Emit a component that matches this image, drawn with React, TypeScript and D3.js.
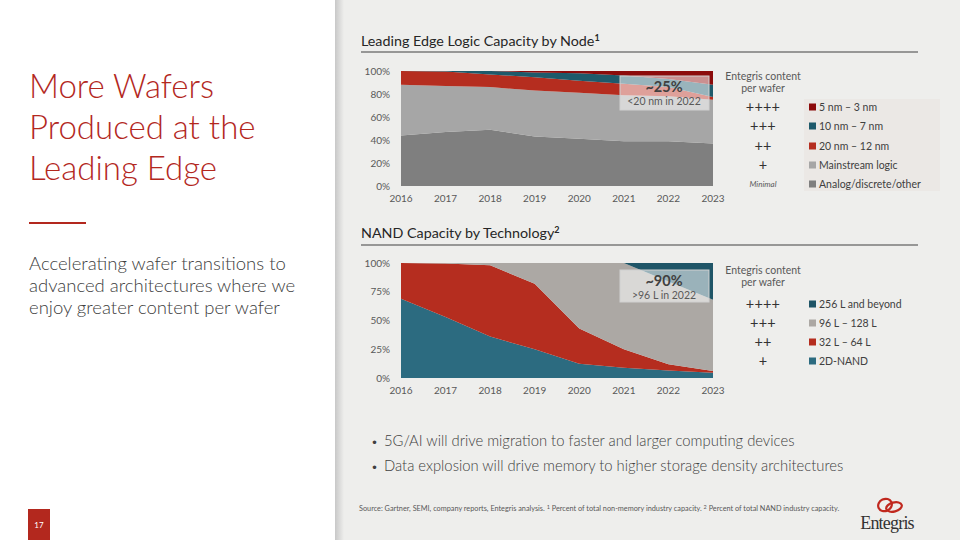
import * as d3 from 'd3';
import React from 'react';

// ---- data ----
const years = [2016, 2017, 2018, 2019, 2020, 2021, 2022, 2023];

// Leading edge logic capacity by node (% of total non-memory capacity)
const logicAnalog = [44, 47, 49, 43, 41, 39, 39, 37];
const logicMainstream = [44, 40, 37, 40, 40, 40, 39, 38];
const logic20to12 = [12, 12.5, 11, 11.5, 10.5, 10, 8, 2.5];
const logic10to7 = [0, 0.5, 3, 4.3, 6.5, 7, 7, 10.5];
const logic5to3 = [0, 0, 0, 1.2, 2, 4, 7, 12];
const logicTicks = [0, 20, 40, 60, 80, 100];

// NAND capacity by technology (% of total NAND capacity)
const nand2D = [69, 53, 36, 25, 12.5, 9, 6.5, 4.5];
const nand32to64 = [31, 46.5, 62, 57, 30.5, 16, 5.5, 1.5];
const nand96to128 = [0, 0.5, 2, 18, 57, 75, 72, 62];
const nand256 = [0, 0, 0, 0, 0, 0, 16, 32];
const nandTicks = [0, 25, 50, 75, 100];

const logicLegend = [
  { plus: '++++', label: '5 nm – 3 nm', color: '#8c0b0b' },
  { plus: '+++', label: '10 nm – 7 nm', color: '#1e5a6b' },
  { plus: '++', label: '20 nm – 12 nm', color: '#b52d1f' },
  { plus: '+', label: 'Mainstream logic', color: '#a6a6a6' },
  { plus: 'Minimal', label: 'Analog/discrete/other', color: '#7f7f7f' },
];
const nandLegend = [
  { plus: '++++', label: '256 L and beyond', color: '#1f5567' },
  { plus: '+++', label: '96 L – 128 L', color: '#aca8a4' },
  { plus: '++', label: '32 L – 64 L', color: '#b52d1f' },
  { plus: '+', label: '2D-NAND', color: '#2c6b80' },
];

const FONT = 'Lato, "Open Sans", sans-serif';
const TEXT = '#404040';
const RED = '#b3281e';

type Row = { year: number; [k: string]: number };

function buildRows(series: number[][], keys: string[]): Row[] {
  return years.map((year, i) => {
    const r: Row = { year };
    keys.forEach((k, j) => (r[k] = series[j][i]));
    return r;
  });
}

interface ChartProps {
  rows: Row[];
  keys: string[];
  colors: string[];
  ticks: number[];
  top: number;
  bottom: number;
  callout: { big: string; small: string; y0: number; y1: number };
}

const StackedArea: React.FC<ChartProps> = ({ rows, keys, colors, ticks, top, bottom, callout }) => {
  const x = d3.scaleLinear().domain([2016, 2023]).range([401, 713]);
  const y = d3.scaleLinear().domain([0, 100]).range([bottom, top]);
  const stacked = d3.stack<Row>().keys(keys)(rows);
  const area = d3
    .area<d3.SeriesPoint<Row>>()
    .x((d) => x(d.data.year))
    .y0((d) => y(d[0]))
    .y1((d) => y(d[1]));

  return (
    <g>
      {stacked.map((s, i) => (
        <path key={s.key} d={area(s) || ''} fill={colors[i]} />
      ))}
      {ticks.map((t) => (
        <text key={t} x={390} y={y(t)} dy="0.35em" textAnchor="end" fontSize={10} fill="#595959">
          {t}%
        </text>
      ))}
      {years.map((yr) => (
        <text key={yr} x={x(yr)} y={bottom + 16} textAnchor="middle" fontSize={10} fill="#595959">
          {yr}
        </text>
      ))}
      <rect
        x={620}
        y={callout.y0}
        width={89}
        height={callout.y1 - callout.y0}
        fill="#ffffff"
        fillOpacity={0.55}
        stroke="#d0d0d0"
        strokeWidth={1}
      />
      <text x={664} y={callout.y0 + 16} textAnchor="middle" fontSize={14.5} fontWeight={700} fill={TEXT}>
        {callout.big}
      </text>
      <text x={664} y={callout.y0 + 29} textAnchor="middle" fontSize={10.5} fill="#595959">
        {callout.small}
      </text>
    </g>
  );
};

const Legend: React.FC<{
  items: { plus: string; label: string; color: string }[];
  headY: number;
  rowY: number[];
}> = ({ items, headY, rowY }) => (
  <g fontSize={10.5} fill={TEXT}>
    <text x={763} y={headY} textAnchor="middle" fill="#595959">Entegris content</text>
    <text x={763} y={headY + 12} textAnchor="middle" fill="#595959">per wafer</text>
    {items.map((it, i) => (
      <g key={it.label}>
        {it.plus === 'Minimal' ? (
          <text x={763} y={rowY[i]} dy="0.35em" textAnchor="middle" fontSize={8} fontStyle="italic" fill="#595959">
            {it.plus}
          </text>
        ) : (
          <text x={763} y={rowY[i]} dy="0.35em" textAnchor="middle" fontSize={14.5} letterSpacing={0.2} fill="#333333">
            {it.plus}
          </text>
        )}
        <rect x={809} y={rowY[i] - 3.5} width={7} height={7} fill={it.color} />
        <text x={819} y={rowY[i]} dy="0.35em" fontSize={10.5} fill={TEXT}>
          {it.label}
        </text>
      </g>
    ))}
  </g>
);

export default function App() {
  const logicKeys = ['analog', 'mainstream', 'n20', 'n10', 'n5'];
  const logicRows = buildRows([logicAnalog, logicMainstream, logic20to12, logic10to7, logic5to3], logicKeys);
  const nandKeys = ['d2', 'l32', 'l96', 'l256'];
  const nandRows = buildRows([nand2D, nand32to64, nand96to128, nand256], nandKeys);

  return (
    <div style={{ position: 'absolute', left: 0, top: 0 }}>
      <svg width={960} height={540} fontFamily={FONT} style={{ display: 'block' }}>
        <defs>
          <linearGradient id="shadow" x1="0" x2="1" y1="0" y2="0">
            <stop offset="0" stopColor="#c8c8c8" />
            <stop offset="1" stopColor="#eeeeec" />
          </linearGradient>
        </defs>
        <rect x={0} y={0} width={960} height={540} fill="#ffffff" />
        <rect x={335} y={0} width={625} height={540} fill="#eeeeec" />
        <rect x={335} y={0} width={9} height={540} fill="url(#shadow)" />

        {/* left panel */}
        <g fill={RED} fontSize={33} fontWeight={300}>
          <text x={29} y={98}>More Wafers</text>
          <text x={29} y={139}>Produced at the</text>
          <text x={29} y={180}>Leading Edge</text>
        </g>
        <line x1={29} x2={86} y1={223} y2={223} stroke={RED} strokeWidth={2} />
        <g fill={TEXT} fontSize={18.5} fontWeight={300}>
          <text x={29} y={270}>Accelerating wafer transitions to</text>
          <text x={29} y={292}>advanced architectures where we</text>
          <text x={29} y={314}>enjoy greater content per wafer</text>
        </g>
        <rect x={28} y={509} width={22} height={31} fill={RED} />
        <text x={39} y={528} textAnchor="middle" fontSize={8} fill="#ffffff">17</text>

        {/* chart 1 */}
        <text x={361} y={46} fontSize={14.3} fill="#262626">
          Leading Edge Logic Capacity by Node
          <tspan fontSize={9} dy={-5} fontWeight={700}>1</tspan>
        </text>
        <line x1={361} x2={918} y1={52} y2={52} stroke="#404040" strokeWidth={1} />
        <StackedArea
          rows={logicRows}
          keys={logicKeys}
          colors={['#7f7f7f', '#a6a6a6', '#b52d1f', '#1e5a6b', '#8c0b0b']}
          ticks={logicTicks}
          top={71}
          bottom={186}
          callout={{ big: '~25%', small: '<20 nm in 2022', y0: 76, y1: 110 }}
        />
        <rect x={804} y={99} width={136} height={92} fill="#ebe8e5" />
        <Legend items={logicLegend} headY={80} rowY={[107, 126, 146, 165, 184]} />

        {/* chart 2 */}
        <text x={361} y={238} fontSize={14.3} fill="#262626">
          NAND Capacity by Technology
          <tspan fontSize={9} dy={-5} fontWeight={700}>2</tspan>
        </text>
        <line x1={361} x2={918} y1={245} y2={245} stroke="#404040" strokeWidth={1} />
        <StackedArea
          rows={nandRows}
          keys={nandKeys}
          colors={['#2c6b80', '#b52d1f', '#aca8a4', '#1f5567']}
          ticks={nandTicks}
          top={263}
          bottom={378}
          callout={{ big: '~90%', small: '>96 L in 2022', y0: 270, y1: 302 }}
        />
        <Legend items={nandLegend} headY={274} rowY={[304, 323, 342, 361]} />

        {/* bullets */}
        <g fill={TEXT} fontSize={14.8} fontWeight={300}>
          <text x={371} y={446} fontSize={12}>•</text>
          <text x={384} y={446}>5G/AI will drive migration to faster and larger computing devices</text>
          <text x={371} y={471} fontSize={12}>•</text>
          <text x={384} y={471}>Data explosion will drive memory to higher storage density architectures</text>
        </g>

        {/* footnote */}
        <text x={359} y={511} fontSize={7.3} fill="#595959">
          Source: Gartner, SEMI, company reports, Entegris analysis.{' '}
          <tspan fontSize={5.5} dy={-2}>1</tspan>
          <tspan dy={2}> Percent of total non-memory industry capacity. </tspan>
          <tspan fontSize={5.5} dy={-2}>2</tspan>
          <tspan dy={2}> Percent of total NAND industry capacity.</tspan>
        </text>

        {/* logo */}
        <g fill="none" stroke="#c0281e" strokeWidth={2.2}>
          <ellipse cx={885} cy={505} rx={7} ry={6} transform="rotate(-25 885 505)" />
          <ellipse cx={894} cy={507} rx={8} ry={4.5} transform="rotate(-15 894 507)" />
        </g>
        <text x={887} y={529} textAnchor="middle" fontSize={18} fontFamily='"Liberation Serif", "DejaVu Serif", serif' fill="#333333" letterSpacing={-0.8}>
          Entegris
        </text>
      </svg>
    </div>
  );
}
